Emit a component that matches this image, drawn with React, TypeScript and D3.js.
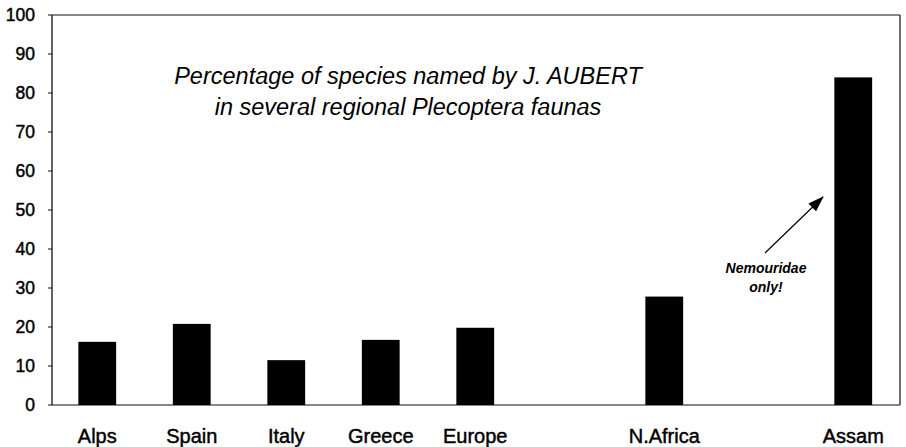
import React from "react";
import * as d3 from "d3";

const categories = ["Alps", "Spain", "Italy", "Greece", "Europe", "", "N.Africa", "", "Assam"];
const values: (number | null)[] = [16.2, 20.8, 11.5, 16.7, 19.8, null, 27.8, null, 84];
const yTicks = [0, 10, 20, 30, 40, 50, 60, 70, 80, 90, 100];
const titleLines = ["Percentage of species named by J. AUBERT", "in several regional Plecoptera faunas"];
const noteLines = ["Nemouridae", "only!"];

const W = 906;
const H = 447;

export default function App() {
  const x = d3.scaleBand<number>().domain(categories.map((_, i) => i)).range([50, 900.5]).paddingInner(0.6).paddingOuter(0.3);
  const y = d3.scaleLinear().domain([0, 100]).range([405, 15]);
  const font = "'Liberation Sans', Arial, sans-serif";
  const x0 = 52;
  const x1 = 900;
  return (
    <svg width={W} height={H} style={{ position: "absolute", left: 0, top: 0, background: "#fff" }} fontFamily={font}>
      <defs>
        <marker id="ah" viewBox="0 0 16 11" refX="15" refY="5.5" markerWidth="16" markerHeight="11" orient="auto" markerUnits="userSpaceOnUse">
          <path d="M0,0 L16,5.5 L0,11 z" fill="#000" />
        </marker>
      </defs>
      {/* frame */}
      <line x1={x0} x2={x1} y1={y(100)} y2={y(100)} stroke="#111" strokeWidth={1} />
      <line x1={x1} x2={x1} y1={y(100)} y2={y(0)} stroke="#111" strokeWidth={1.2} />
      <line x1={x0} x2={x0} y1={y(100)} y2={y(0)} stroke="#111" strokeWidth={1.3} />
      <line x1={x0} x2={x1} y1={y(0)} y2={y(0)} stroke="#111" strokeWidth={1.2} />
      {yTicks.map((t) => (
        <g key={t}>
          <line x1={x0 - 4} x2={x0} y1={y(t)} y2={y(t)} stroke="#111" strokeWidth={1} />
          <text x={35} y={y(t)} dy="0.36em" textAnchor="end" fontSize={17.5} fill="#000" stroke="#000" strokeWidth={0.45}>
            {t}
          </text>
        </g>
      ))}
      {values.map((v, i) =>
        v == null ? null : (
          <rect key={i} x={x(i)} y={y(v)} width={x.bandwidth()} height={y(0) - y(v)} fill="#000" />
        )
      )}
      {categories.map((c, i) =>
        c ? (
          <text key={i} x={(x(i) ?? 0) + x.bandwidth() / 2} y={443} textAnchor="middle" fontSize={20} fill="#000" stroke="#000" strokeWidth={0.45}>
            {c}
          </text>
        ) : null
      )}
      {titleLines.map((t, i) => (
        <text key={i} x={408} y={84 + i * 31} textAnchor="middle" fontSize={23.5} fontStyle="italic" fill="#000">
          {t}
        </text>
      ))}
      {noteLines.map((t, i) => (
        <text key={i} x={766} y={273 + i * 18.5} textAnchor="middle" fontSize={14} fontStyle="italic" fontWeight="bold" fill="#000">
          {t}
        </text>
      ))}
      <line x1={765} y1={253} x2={823} y2={197} stroke="#000" strokeWidth={1.2} markerEnd="url(#ah)" />
    </svg>
  );
}
